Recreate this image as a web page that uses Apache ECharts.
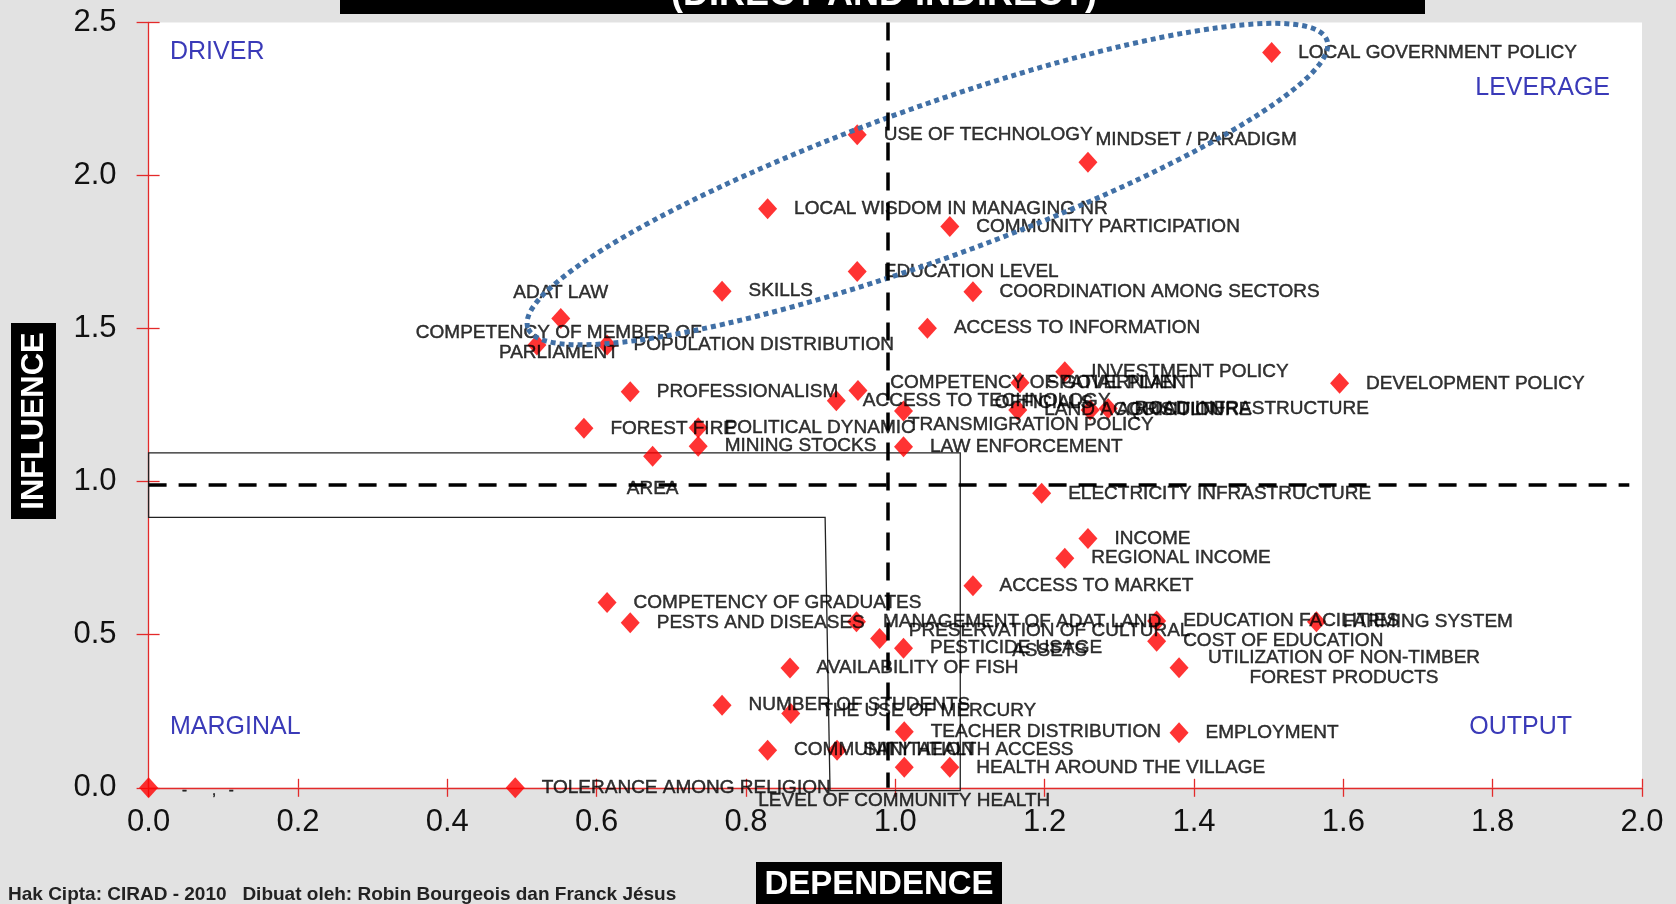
<!DOCTYPE html>
<html><head><meta charset="utf-8">
<script src="https://cdn.jsdelivr.net/npm/echarts@6/dist/echarts.min.js"></script>
<style>html,body{margin:0;padding:0;background:#e2e2e2;}#c{width:1676px;height:904px;}</style>
</head><body><div id="c"></div>
<script>
// ---- data ----
const variables = [
  'LOCAL GOVERNMENT POLICY','USE OF TECHNOLOGY','MINDSET / PARADIGM','LOCAL WISDOM IN MANAGING NR',
  'COMMUNITY PARTICIPATION','EDUCATION LEVEL','COORDINATION AMONG SECTORS','SKILLS','ADAT LAW',
  'ACCESS TO INFORMATION','COMPETENCY OF MEMBER OF\nPARLIAMENT','POPULATION DISTRIBUTION','PROFESSIONALISM',
  'COMPETENCY OF GOVERNMENT\nOFFICIALS','ACCESS TO TECHNOLOGY','SPATIAL PLAN','INVESTMENT POLICY',
  'DEVELOPMENT POLICY','TRANSMIGRATION POLICY','LAND ACQUISITION','AGRICULTURE','ROAD INFRASTRUCTURE',
  'FOREST FIRE','POLITICAL DYNAMIC','MINING STOCKS','LAW ENFORCEMENT','AREA','ELECTRICITY INFRASTRUCTURE',
  'INCOME','REGIONAL INCOME','ACCESS TO MARKET','COMPETENCY OF GRADUATES','PESTS AND DISEASES',
  'MANAGEMENT OF ADAT LAND','PRESERVATION OF CULTURAL\nASSETS','PESTICIDE USAGE','EDUCATION FACILITIES',
  'FARMING SYSTEM','COST OF EDUCATION','UTILIZATION OF NON-TIMBER\nFOREST PRODUCTS','AVAILABILITY OF FISH',
  'NUMBER OF STUDENTS','THE USE OF MERCURY','TEACHER DISTRIBUTION','EMPLOYMENT','COMMUNITY HEALTH ACCESS',
  'SANITATION','LEVEL OF COMMUNITY HEALTH','HEALTH AROUND THE VILLAGE','TOLERANCE AMONG RELIGION','-      ,   -'
];
const dependence = [
  1.504,0.949,1.258,0.829,
  1.073,0.949,1.104,0.768,0.552,
  1.043,0.520,0.614,0.645,
  0.950,0.921,1.167,1.227,
  1.595,1.011,1.164,1.261,1.285,
  0.583,0.736,0.736,1.011,0.675,1.196,
  1.258,1.227,1.104,0.614,0.645,
  0.948,0.979,1.011,1.350,
  1.564,1.350,1.380,0.859,
  0.768,0.860,1.012,1.380,0.829,
  0.922,1.012,1.073,0.491,0.000
];
const influence = [
  2.402,2.133,2.043,1.891,
  1.833,1.686,1.620,1.622,1.533,
  1.501,1.446,1.446,1.294,
  1.298,1.264,1.323,1.359,
  1.321,1.231,1.234,1.234,1.239,
  1.174,1.176,1.116,1.114,1.083,0.962,
  0.814,0.750,0.660,0.605,0.539,
  0.542,0.488,0.456,0.545,
  0.542,0.479,0.392,0.391,
  0.270,0.243,0.183,0.180,0.123,
  0.123,0.067,0.067,0.000,0.000
];
const xRange = [0, 2, 0.2];
const yRange = [0, 2.5, 0.5];
const meanDependence = 0.99;
const meanInfluence = 0.99;
const frameBox = [[0,1.094],[1.087,1.094],[1.087,-0.009],[0.9126,-0.009],[0.906,0.883],[0,0.883]];
const ellipseCenter = [1.043, 1.972];
const ellipseTip = [1.578, 2.442];
const quadrants = ['DRIVER','LEVERAGE','MARGINAL','OUTPUT'];

// ---- styles ----
const FONT = '"Liberation Sans", Arial, sans-serif';
const RED = '#e32a2a';
const labelTweaks = {
  'MINDSET / PARADIGM': {offset:[-19,-23]},
  'ADAT LAW': {position:'top', distance:5.5},
  'COMPETENCY OF MEMBER OF\nPARLIAMENT': {position:'inside', offset:[22,-2], align:'center', lineHeight:20},
  'AREA': {position:'bottom', distance:12.5},
  'COMPETENCY OF GOVERNMENT\nOFFICIALS': {position:'inside', offset:[186,2], align:'center', lineHeight:20},
  'TRANSMIGRATION POLICY': {offset:[-22,14]},
  'PRESERVATION OF CULTURAL\nASSETS': {position:'inside', offset:[170,2], align:'center', lineHeight:20},
  'UTILIZATION OF NON-TIMBER\nFOREST PRODUCTS': {position:'inside', offset:[165,0], align:'center', lineHeight:20},
  'THE USE OF MERCURY': {offset:[4,-3]},
  'LEVEL OF COMMUNITY HEALTH': {position:'bottom', distance:12.5},
  '-      ,   -': {fontSize:15, offset:[7,3]}
};

const chart = echarts.init(document.getElementById('c'), null, {width:1676, height:904, renderer:'canvas'});

const points = variables.map((n,i)=>({
  name:n, value:[dependence[i], influence[i]],
  label: Object.assign({}, labelTweaks[n] || {})
}));

const tickStyle = {color:RED, width:1.3};

chart.setOption({
  animation:false,
  backgroundColor:'#e2e2e2',
  grid:{left:148.6, right:34, top:22.4, bottom:116.2, show:true, backgroundColor:'#ffffff', borderWidth:0, containLabel:false},
  xAxis:[
    {type:'value', min:xRange[0], max:xRange[1], interval:xRange[2], position:'bottom',
     axisLine:{show:true, onZero:false, lineStyle:{color:RED, width:1.3}},
     axisTick:{show:true, length:9, lineStyle:tickStyle},
     axisLabel:{fontSize:31, color:'#111', fontFamily:FONT, margin:19, formatter:v=>v.toFixed(1)},
     splitLine:{show:false}},
    {type:'value', min:xRange[0], max:xRange[1], interval:xRange[2], position:'bottom',
     axisLine:{show:false, onZero:false}, axisTick:{show:true, inside:true, length:9, lineStyle:tickStyle},
     axisLabel:{show:false}, splitLine:{show:false}}
  ],
  yAxis:[
    {type:'value', min:yRange[0], max:yRange[1], interval:yRange[2], position:'left',
     axisLine:{show:true, onZero:false, lineStyle:{color:RED, width:1.3}},
     axisTick:{show:true, length:12, lineStyle:tickStyle},
     axisLabel:{fontSize:31, color:'#111', fontFamily:FONT, margin:32, formatter:v=>v.toFixed(1)},
     splitLine:{show:false}},
    {type:'value', min:yRange[0], max:yRange[1], interval:yRange[2], position:'left',
     axisLine:{show:false, onZero:false}, axisTick:{show:true, inside:true, length:11, lineStyle:tickStyle},
     axisLabel:{show:false}, splitLine:{show:false}}
  ],
  series:[
    {type:'custom', name:'frame', coordinateSystem:'cartesian2d', clip:false, silent:true, z:1,
     data:[[0,0]],
     renderItem:(params, api)=>({type:'polygon', shape:{points: frameBox.map(p=>api.coord(p))},
       style:{fill:null, stroke:'#222', lineWidth:1.3}})},
    {type:'scatter', name:'variables', symbol:'diamond', symbolSize:[19,21], z:3,
     itemStyle:{color:'#ff0000'},
     label:{show:true, position:'right', distance:17, formatter:'{b}', color:'#000', fontSize:19, fontFamily:FONT, lineHeight:20,
       textBorderColor:'#000', textBorderWidth:0.45},
     emphasis:{disabled:true},
     data:points,
     markLine:{silent:true, symbol:'none', animation:false,
       lineStyle:{color:'#000', type:[18,12], width:3.5},
       label:{show:false},
       data:[
         [{coord:[meanDependence, yRange[1]]},{coord:[meanDependence, yRange[0]]}],
         [{coord:[xRange[0], meanInfluence]},{coord:[1.983, meanInfluence]}]
       ]}
    },
    {type:'custom', name:'ellipse', coordinateSystem:'cartesian2d', clip:false, silent:true, z:4,
     data:[[ellipseCenter[0], ellipseCenter[1]]],
     renderItem:(params, api)=>{
       const c = api.coord(ellipseCenter), t = api.coord(ellipseTip);
       const rx = Math.hypot(t[0]-c[0], t[1]-c[1]);
       const ang = Math.atan2(c[1]-t[1], t[0]-c[0]);
       return {type:'ellipse', x:c[0], y:c[1], rotation:ang, shape:{cx:0, cy:0, rx:rx, ry:76},
         style:{fill:null, stroke:'#4170a6', lineWidth:5, lineDash:[5,4]}};
     }}
  ],
  graphic:[
    {type:'rect', shape:{x:340, y:-40, width:1085, height:54}, style:{fill:'#000'}, z:10},
    {type:'text', x:884, y:-5, z:11, style:{text:'(DIRECT AND INDIRECT)', fill:'#fff', font:'bold 36px '+FONT, align:'center', verticalAlign:'middle', textAlign:'center', textVerticalAlign:'middle'}},
    {type:'rect', shape:{x:11, y:323, width:45, height:196}, style:{fill:'#000'}, z:10},
    {type:'text', x:34, y:421, rotation:Math.PI/2, z:11, style:{text:'INFLUENCE', fill:'#fff', font:'bold 31px '+FONT, align:'center', verticalAlign:'middle', textAlign:'center', textVerticalAlign:'middle'}},
    {type:'rect', shape:{x:756, y:862, width:246, height:50}, style:{fill:'#000'}, z:10},
    {type:'text', x:879, y:885, z:11, style:{text:'DEPENDENCE', fill:'#fff', font:'bold 33px '+FONT, align:'center', verticalAlign:'middle', textAlign:'center', textVerticalAlign:'middle'}},
    {type:'text', x:8, y:895, z:11, style:{text:'Hak Cipta: CIRAD - 2010   Dibuat oleh: Robin Bourgeois dan Franck Jésus', fill:'#222', font:'bold 19px '+FONT, align:'left', verticalAlign:'middle', textAlign:'left', textVerticalAlign:'middle'}},
    {type:'text', x:170, y:52, z:11, style:{text:quadrants[0], fill:'#3a3ab8', font:'25px '+FONT, align:'left', verticalAlign:'middle', textAlign:'left', textVerticalAlign:'middle'}},
    {type:'text', x:1610, y:88, z:11, style:{text:quadrants[1], fill:'#3a3ab8', font:'25px '+FONT, align:'right', verticalAlign:'middle', textAlign:'right', textVerticalAlign:'middle'}},
    {type:'text', x:170, y:727, z:11, style:{text:quadrants[2], fill:'#3a3ab8', font:'25px '+FONT, align:'left', verticalAlign:'middle', textAlign:'left', textVerticalAlign:'middle'}},
    {type:'text', x:1572, y:727, z:11, style:{text:quadrants[3], fill:'#3a3ab8', font:'25px '+FONT, align:'right', verticalAlign:'middle', textAlign:'right', textVerticalAlign:'middle'}}
  ]
});
</script></body></html>
